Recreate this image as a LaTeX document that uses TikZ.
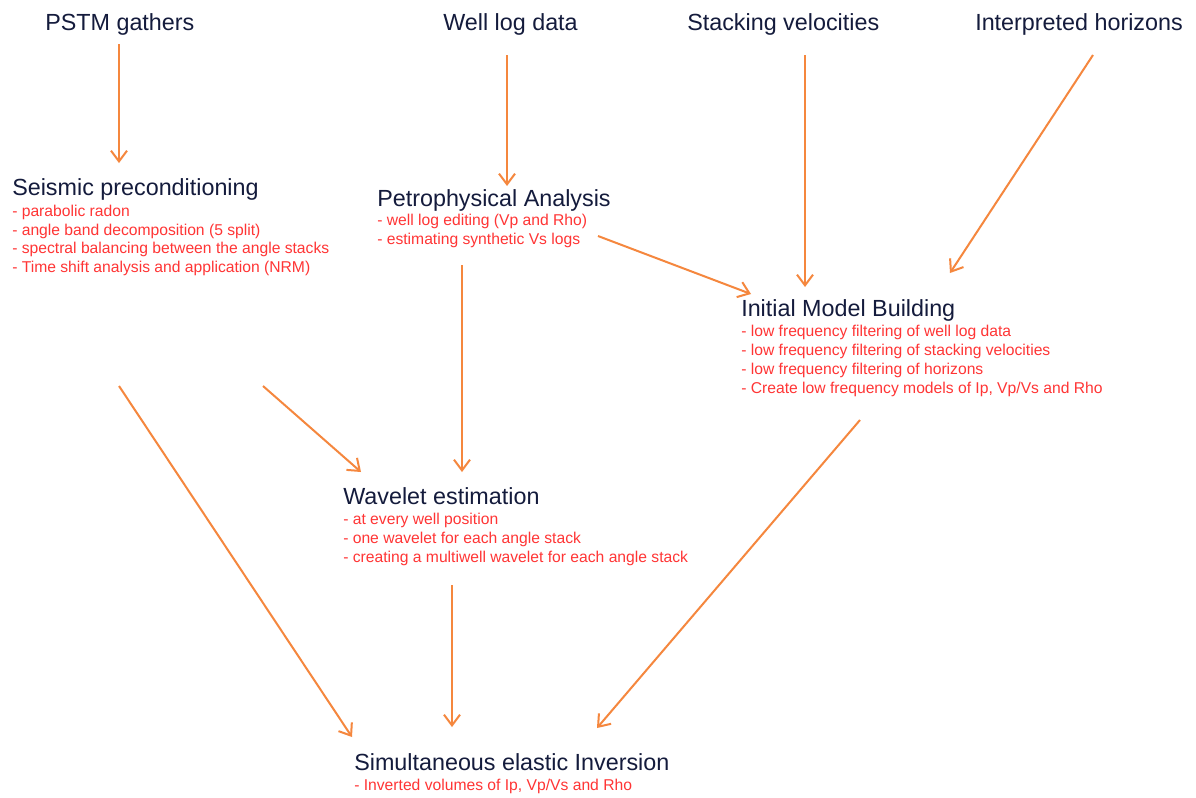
\documentclass[tikz,border=0pt]{standalone}
\usepackage{fontspec}
\setmainfont{Liberation Sans}
\usetikzlibrary{arrows.meta}
\definecolor{arrc}{HTML}{F5873E}
\definecolor{itemc}{HTML}{FF3535}
\definecolor{titc}{HTML}{141B3C}
\tikzset{
  ttl/.style={anchor=base west,inner sep=0pt,text=titc,font=\fontsize{17.5}{20}\selectfont},
  itm/.style={anchor=base west,inner sep=0pt,text=itemc,font=\fontsize{11.75}{14}\selectfont},
  arr/.style={draw=arrc,line width=1.5pt,-{Straight Barb[length=8pt,width=12pt,line width=1.5pt]}}
}
\begin{document}
\begin{tikzpicture}[x=0.75pt,y=-0.75pt]
\path[use as bounding box,fill=white] (0,0) rectangle (1196,797);
% inputs
\node[ttl] (pstm) at (45,30) {PSTM gathers};
\node[ttl] (well) at (443,30) {Well log data};
\node[ttl] (stack) at (687,30) {Stacking velocities};
\node[ttl] (horiz) at (975,30) {Interpreted horizons};
% seismic preconditioning
\node[ttl] (seis) at (12,195) {Seismic preconditioning};
\node[itm] (seis1) at (12,216.5) {- parabolic radon};
\node[itm] (seis2) at (12,235) {- angle band decomposition (5 split)};
\node[itm] (seis3) at (12,253.5) {- spectral balancing between the angle stacks};
\node[itm] (seis4) at (12,272.5) {- Time shift analysis and application (NRM)};
% petrophysical
\node[ttl] (petro) at (377,206) {Petrophysical Analysis};
\node[itm] (petro1) at (377,225.5) {- well log editing (Vp and Rho)};
\node[itm] (petro2) at (377,244.5) {- estimating synthetic Vs logs};
% initial model
\node[ttl] (init) at (741,316) {Initial Model Building};
\node[itm] (init1) at (741,336.5) {- low frequency filtering of well log data};
\node[itm] (init2) at (741,355.5) {- low frequency filtering of stacking velocities};
\node[itm] (init3) at (741,374.5) {- low frequency filtering of horizons};
\node[itm] (init4) at (741,393.5) {- Create low frequency models of Ip, Vp/Vs and Rho};
% wavelet
\node[ttl] (wave) at (343,504) {Wavelet estimation};
\node[itm] (wave1) at (343,524.5) {- at every well position};
\node[itm] (wave2) at (343,543.5) {- one wavelet for each angle stack};
\node[itm] (wave3) at (343,562.5) {- creating a multiwell wavelet for each angle stack};
% inversion
\node[ttl] (inv) at (354,770) {Simultaneous elastic Inversion};
\node[itm] (inv1) at (354,790.5) {- Inverted volumes of Ip, Vp/Vs and Rho};
% arrow end points
\coordinate (pstmO) at (119,44);   \coordinate (seisI) at (119,163);
\coordinate (wellO) at (507,55);   \coordinate (petroI) at (507,186);
\coordinate (stackO) at (805,55);  \coordinate (initI1) at (805,287);
\coordinate (horizO) at (1093,55); \coordinate (initI2) at (950,273);
\coordinate (petroO1) at (598,236); \coordinate (initI3) at (751,294);
\coordinate (seisO1) at (263,386); \coordinate (waveI1) at (361,472);
\coordinate (seisO2) at (119,386); \coordinate (invI1) at (352,737);
\coordinate (petroO2) at (462,265); \coordinate (waveI2) at (462,472);
\coordinate (waveO) at (452,585);  \coordinate (invI2) at (452,727);
\coordinate (initO) at (860,420);  \coordinate (invI3) at (597,728);
% connectors
\draw[arr] (pstmO) -- (seisI);
\draw[arr] (wellO) -- (petroI);
\draw[arr] (stackO) -- (initI1);
\draw[arr] (horizO) -- (initI2);
\draw[arr] (petroO1) -- (initI3);
\draw[arr] (seisO1) -- (waveI1);
\draw[arr] (seisO2) -- (invI1);
\draw[arr] (petroO2) -- (waveI2);
\draw[arr] (waveO) -- (invI2);
\draw[arr] (initO) -- (invI3);
\end{tikzpicture}
\end{document}
